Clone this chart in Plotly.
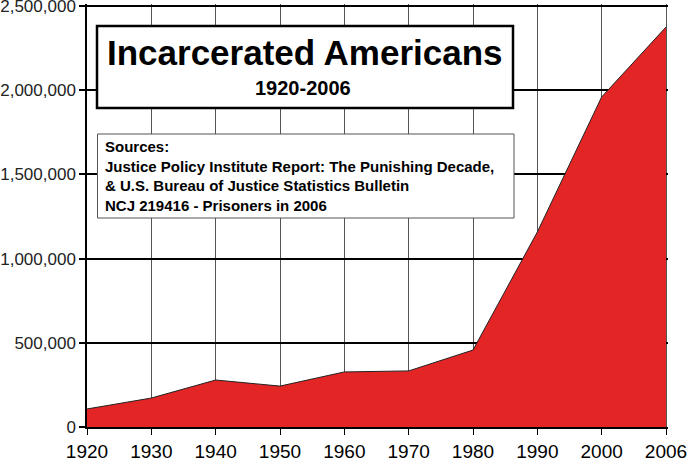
import plotly.graph_objects as go

years = ["1920", "1930", "1940", "1950", "1960", "1970", "1980", "1990", "2000", "2006"]
inmates = [107000, 172000, 279000, 243000, 327000, 333000, 457000, 1158000, 1960000, 2375000]
y_ticks = [0, 500000, 1000000, 1500000, 2000000, 2500000]

title_text = "Incarcerated Americans"
subtitle_text = "1920-2006"
source_lines = [
    "Sources:",
    "Justice Policy Institute Report: The Punishing Decade,",
    "& U.S. Bureau of Justice Statistics Bulletin",
    "NCJ 219416 - Prisoners in 2006",
]

W, H = 693, 464
# pixel positions of first/last category and of 0 / 2,500,000
X0, X1, Y0, Y1 = 87, 666, 427, 6
# plot area slightly larger so edge gridlines are not clipped
L, R, T, B = 87, 668, 4, 427
n = len(years) - 1
x_hi = n * (R - L) / (X1 - X0)
y_hi = y_ticks[-1] * (B - T) / (Y0 - Y1)
FONT = "Liberation Sans, Arial, sans-serif"


def px(x):
    return (x - L) / (R - L)


def py(y):
    return (B - y) / (B - T)


fig = go.Figure()
fig.add_trace(go.Scatter(
    x=years, y=inmates, mode="lines", fill="tozeroy",
    fillcolor="#e32526", line=dict(color="#222222", width=1),
    hoverinfo="x+y", showlegend=False,
))

shapes = [
    dict(type="rect", xref="paper", yref="paper",
         x0=px(97), x1=px(513), y0=py(108), y1=py(26),
         line=dict(color="#000000", width=2.5), fillcolor="white", layer="above"),
    dict(type="rect", xref="paper", yref="paper",
         x0=px(97.5), x1=px(514), y0=py(218), y1=py(134),
         line=dict(color="#555555", width=1), fillcolor="white", layer="above"),
]

annotations = [
    dict(xref="paper", yref="paper", x=px(305), y=py(52), text="<b>%s</b>" % title_text,
         showarrow=False, xanchor="center", yanchor="middle",
         font=dict(family=FONT, size=35, color="#000000")),
    dict(xref="paper", yref="paper", x=px(303), y=py(88), text="<b>%s</b>" % subtitle_text,
         showarrow=False, xanchor="center", yanchor="middle",
         font=dict(family=FONT, size=20, color="#000000")),
    dict(xref="paper", yref="paper", x=px(103), y=py(176),
         text="<br>".join("<b>%s</b>" % s for s in source_lines),
         showarrow=False, xanchor="left", yanchor="middle", align="left",
         font=dict(family=FONT, size=15, color="#000000")),
]

fig.update_layout(
    width=W, height=H,
    margin=dict(l=L, r=W - R, t=T, b=H - B, pad=0, autoexpand=False),
    paper_bgcolor="white", plot_bgcolor="white",
    shapes=shapes, annotations=annotations,
    xaxis=dict(
        type="category", range=[0, x_hi], automargin=False,
        showgrid=True, gridcolor="#555555", gridwidth=1,
        showline=True, linecolor="#000000", linewidth=1.5,
        ticks="outside", ticklen=6, tickcolor="#000000", tickwidth=1,
        tickfont=dict(family=FONT, size=19, color="#000000"),
        ticklabeloverflow="allow",
        zeroline=False, fixedrange=True,
    ),
    yaxis=dict(
        range=[0, y_hi], tickvals=y_ticks, tickformat=",d", automargin=False,
        showgrid=True, gridcolor="#000000", gridwidth=2,
        showline=True, linecolor="#000000", linewidth=1.5,
        ticks="outside", ticklen=6, tickcolor="#000000", tickwidth=1.5,
        tickfont=dict(family=FONT, size=17, color="#222222"),
        ticklabeloverflow="allow",
        zeroline=False, fixedrange=True,
    ),
)

fig.write_html(
    "out.html",
    config={"displayModeBar": False},
    post_script="document.body.style.margin='0';document.body.style.overflow='hidden';",
)
